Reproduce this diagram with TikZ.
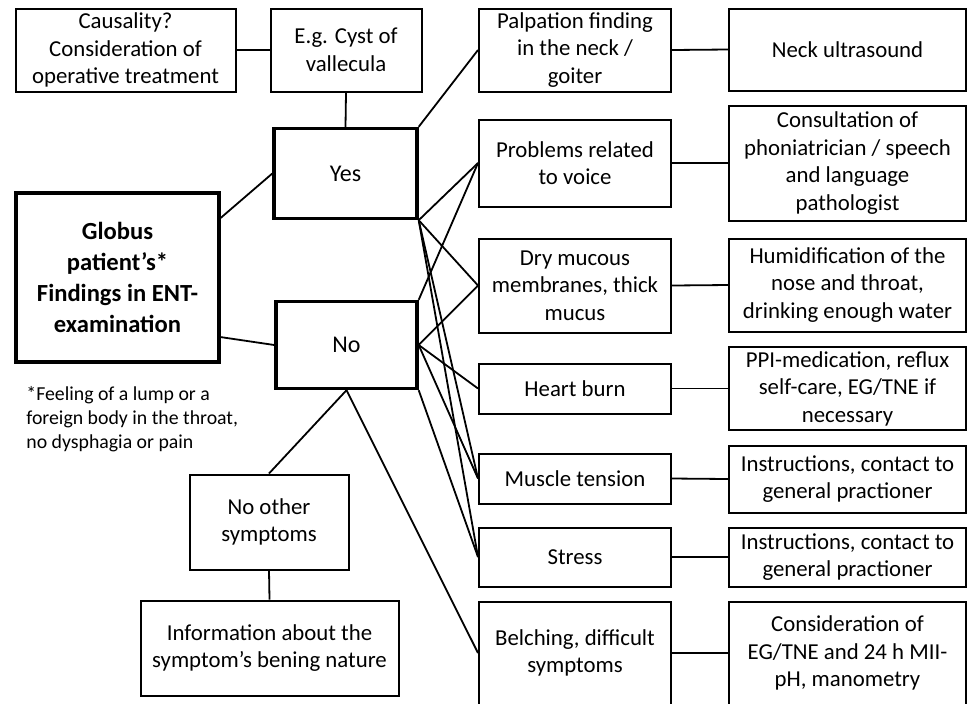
\documentclass[tikz,border=0pt]{standalone}
\usepackage{fontspec}
\setmainfont{Carlito}

\begin{document}
\begin{tikzpicture}[
    x=0.5pt, y=-0.5pt,
    font=\fontsize{11.4}{13.75}\selectfont,
    box/.style={rectangle, draw=black, line width=1pt, align=center, inner sep=2pt},
    keybox/.style={box, line width=1.7pt},
    findbox/.style={box, minimum width=96pt},
    actbox/.style={box, minimum width=118.5pt},
    link/.style={line width=0.9pt},
    bigtext/.style={font=\fontsize{12}{15.5}\selectfont}
]
\useasboundingbox (0,0) rectangle (968,703);

% --- Lado izquierdo ---
\node[box, minimum width=110pt, minimum height=41.5pt] (causality) at (125.5,50) {Causality?\\Consideration of\\operative treatment};
\node[box, minimum width=75.5pt, minimum height=41.5pt] (cyst) at (346,50) {E.g. Cyst of\\vallecula};
\node[keybox, bigtext, minimum width=71.5pt, minimum height=45pt] (yes) at (345.5,173.5) {Yes};
\node[keybox, minimum width=101.5pt, minimum height=84.5pt, font=\fontsize{12.3}{15.5}\selectfont\bfseries] (globus) at (117.5,277.5) {Globus\\patient’s*\\Findings in ENT-\\examination};
\node[keybox, bigtext, minimum width=70.5pt, minimum height=43.5pt] (no) at (346.5,345) {No};
\node[align=left, anchor=north west, inner sep=0pt, font=\fontsize{9.9}{12}\selectfont] (note) at (26,386) {*Feeling of a lump or a\\foreign body in the throat,\\no dysphagia or pain};
\node[box, minimum width=79.5pt, minimum height=47.5pt] (other) at (269,522) {No other\\symptoms};
\node[box, minimum width=129pt, minimum height=47.5pt] (info) at (269.5,648) {Information about the\\symptom’s bening nature};

% --- Hallazgos ---
\node[findbox, minimum height=41.5pt] (palpation) at (575,50) {Palpation finding\\in the neck /\\goiter};
\node[findbox, minimum height=43.5pt] (voice) at (575,163) {Problems related\\to voice};
\node[findbox, minimum height=47pt] (dry) at (575,285.5) {Dry mucous\\membranes, thick\\mucus};
\node[findbox, minimum height=25pt] (heart) at (575,388.5) {Heart burn};
\node[findbox, minimum height=25pt] (muscle) at (575,478.5) {Muscle tension};
\node[findbox, minimum height=29.5pt] (stress) at (575,557) {Stress};
\node[findbox, minimum height=51.5pt] (belching) at (575,653) {Belching, difficult\\symptoms};

% --- Acciones ---
\node[actbox, minimum height=41pt] (ultrasound) at (847.5,49.5) {Neck ultrasound};
\node[actbox, minimum height=57.5pt] (phoniatrician) at (847.5,163) {Consultation of\\phoniatrician / speech\\and language\\pathologist};
\node[actbox, minimum height=46.5pt] (humid) at (847.5,285) {Humidification of the\\nose and throat,\\drinking enough water};
\node[actbox, minimum height=40pt] (ppi) at (847.5,388.5) {PPI-medication, reflux\\self-care, EG/TNE if\\necessary};
\node[actbox, minimum height=33.5pt] (instr) at (847.5,479) {Instructions, contact to\\general practioner};
\node[actbox, minimum height=29.5pt] (instrb) at (847.5,557) {Instructions, contact to\\general practioner};
\node[actbox, minimum height=51.5pt] (manometry) at (847.5,653) {Consideration of\\EG/TNE and 24 h MII-\\pH, manometry};

% --- Conexiones ---
\draw[link] (globus.30) -- (yes.west);
\draw[link] (globus.-30) -- (no.west);
\draw[link] (yes.north) -- (cyst.south);
\draw[link] (cyst.west) -- (causality.east);
\draw[link] (yes.north east) -- (palpation.west);
\foreach \f in {voice, dry, muscle, stress}
    \draw[link] (yes.south east) -- (\f.west);
\draw[link] (no.north east) -- (voice.west);
\foreach \f in {dry, heart, muscle}
    \draw[link] (no.east) -- (\f.west);
\draw[link] (no.south east) -- (stress.west);
\draw[link] (no.south) -- (belching.west);
\draw[link] (no.south) -- (other.north);
\draw[link] (other.south) -- (info.north);
\foreach \f/\a in {palpation/ultrasound, voice/phoniatrician, dry/humid, heart/ppi,
                   muscle/instr, stress/instrb, belching/manometry}
    \draw[link] (\f.east) -- (\a.west);
\end{tikzpicture}
\end{document}
